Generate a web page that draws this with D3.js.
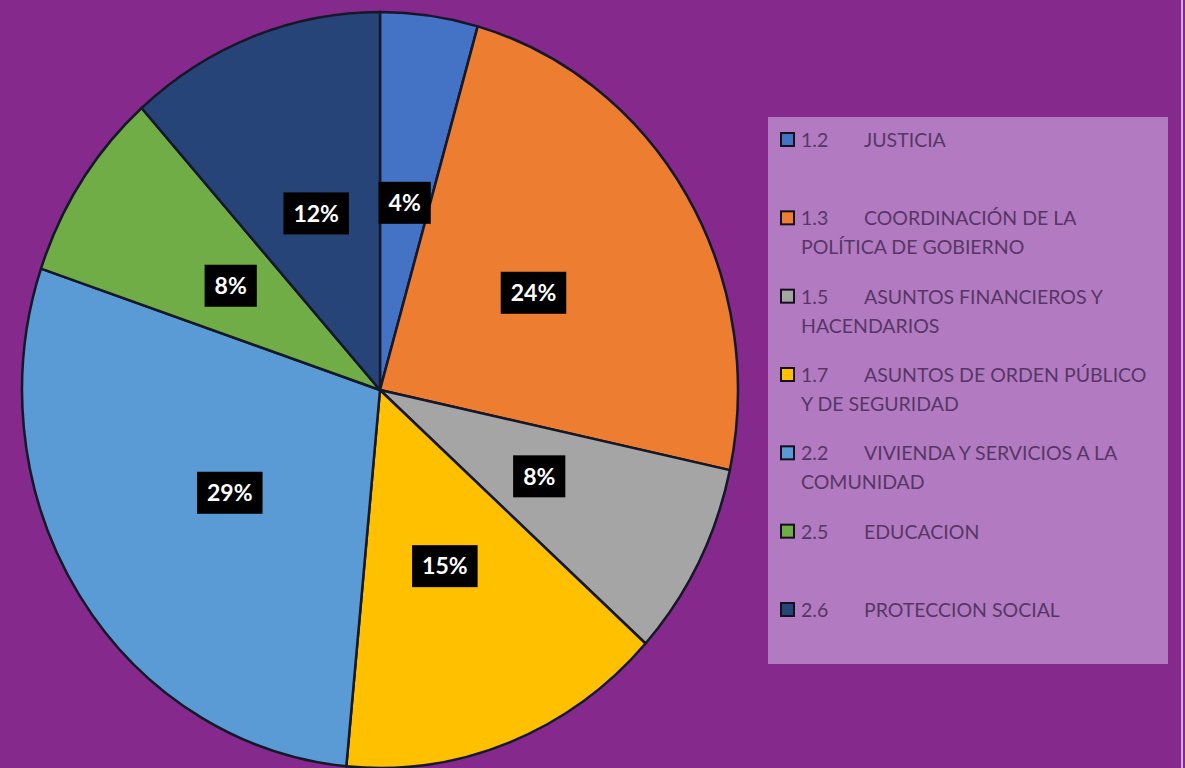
<!DOCTYPE html>
<html>
<head>
<meta charset="utf-8">
<script src="https://cdn.jsdelivr.net/npm/d3@7"></script>
<style>
  html, body { margin: 0; padding: 0; background: #85298d; }
  svg { display: block; }
</style>
</head>
<body>
<script>
var width = 1185;
var height = 768;

// slices, clockwise from 12 o'clock
var codes = ["1.2", "1.3", "1.5", "1.7", "2.2", "2.5", "2.6"];
var names = [
    "JUSTICIA",
    "COORDINACIÓN DE LA|POLÍTICA DE GOBIERNO",
    "ASUNTOS FINANCIEROS Y|HACENDARIOS",
    "ASUNTOS DE ORDEN PÚBLICO|Y DE SEGURIDAD",
    "VIVIENDA Y SERVICIOS A LA|COMUNIDAD",
    "EDUCACION",
    "PROTECCION SOCIAL"];
var values = [4.4, 24.0, 8.3, 14.8, 28.7, 8.2, 11.6];
var colors = ["#4472c4", "#ed7d31", "#a5a5a5", "#ffc000", "#5b9bd5", "#70ad47", "#264478"];

var cx = 380, cy = 390;
var radius = 378;
var squash = 0.947;   // the pie is a bit narrower than tall

var svg = d3.select("body")
    .append("svg")
    .attr("width", width)
    .attr("height", height);

svg.append("rect")
    .attr("width", width)
    .attr("height", height)
    .attr("fill", "#85298d");

// thin light stripe on the right edge
svg.append("rect")
    .attr("x", 1181).attr("y", 0)
    .attr("width", 2).attr("height", height)
    .attr("fill", "#d9a6df");

var color = d3.scaleOrdinal()
    .domain(codes)
    .range(colors);

var pie = d3.pie()
    .sort(null)
    .value(function(d){ return d.value; });

var data = codes.map(function(c, i){
    return {code: c, name: names[i], value: values[i]};
});
var arcs = pie(data);

var arc = d3.arc()
    .innerRadius(0)
    .outerRadius(radius);

var pieG = svg.append("g")
    .attr("transform", "translate(" + cx + "," + cy + ") scale(" + squash + ",1)");

pieG.selectAll("path")
    .data(arcs)
    .enter()
    .append("path")
    .attr("d", arc)
    .attr("fill", function(d){ return color(d.data.code); })
    .attr("stroke", "#141828")
    .attr("stroke-width", 2.5)
    .attr("stroke-linejoin", "round")
    .attr("vector-effect", "non-scaling-stroke");

// percentage labels in black boxes
var labelG = svg.append("g")
    .attr("transform", "translate(" + cx + "," + cy + ")");

var labels = labelG.selectAll("g.lab")
    .data(arcs)
    .enter()
    .append("g")
    .attr("class", "lab")
    .attr("transform", function(d){
        var c = arc.centroid(d);
        return "translate(" + (c[0] * squash) + "," + c[1] + ")";
    });

labels.each(function(d){
    var g = d3.select(this);
    var txt = g.append("text")
        .attr("text-anchor", "middle")
        .attr("dy", "0.36em")
        .attr("fill", "#ffffff")
        .attr("font-family", "Lato, 'Open Sans', sans-serif")
        .attr("font-weight", "bold")
        .attr("font-size", 23)
        .text(Math.round(d.data.value) + "%");
    var w = txt.node().getComputedTextLength();
    g.insert("rect", "text")
        .attr("x", -w / 2 - 10)
        .attr("y", -21)
        .attr("width", w + 20)
        .attr("height", 42)
        .attr("fill", "#000000");
});

// legend
var legX = 768, legY = 117, legW = 400, legH = 547;
svg.append("rect")
    .attr("x", legX).attr("y", legY)
    .attr("width", legW).attr("height", legH)
    .attr("fill", "#b27bc1");

var rowY = d3.scalePoint()
    .domain(codes)
    .range([140, 610]);

var rows = svg.selectAll("g.leg")
    .data(data)
    .enter()
    .append("g")
    .attr("class", "leg")
    .attr("transform", function(d){ return "translate(0," + rowY(d.code) + ")"; });

rows.append("rect")
    .attr("x", 781).attr("y", -7)
    .attr("width", 13).attr("height", 13)
    .attr("fill", function(d){ return color(d.code); })
    .attr("stroke", "#14101e")
    .attr("stroke-width", 2);

var legFont = "Lato, 'Open Sans', sans-serif";
var legColor = "#573666";
var legSize = 19.5;

rows.append("text")
    .attr("x", 801)
    .attr("dy", "0.36em")
    .attr("font-family", legFont)
    .attr("font-size", legSize)
    .attr("fill", legColor)
    .text(function(d){ return d.code; });

rows.each(function(d){
    var parts = d.name.split("|");
    var g = d3.select(this);
    g.append("text")
        .attr("x", 864)
        .attr("dy", "0.36em")
        .attr("font-family", legFont)
        .attr("font-size", legSize)
        .attr("fill", legColor)
        .text(parts[0]);
    if (parts[1]) {
        g.append("text")
            .attr("x", 801)
            .attr("y", 29)
            .attr("dy", "0.36em")
            .attr("font-family", legFont)
            .attr("font-size", legSize)
            .attr("fill", legColor)
            .text(parts[1]);
    }
});
</script>
</body>
</html>
